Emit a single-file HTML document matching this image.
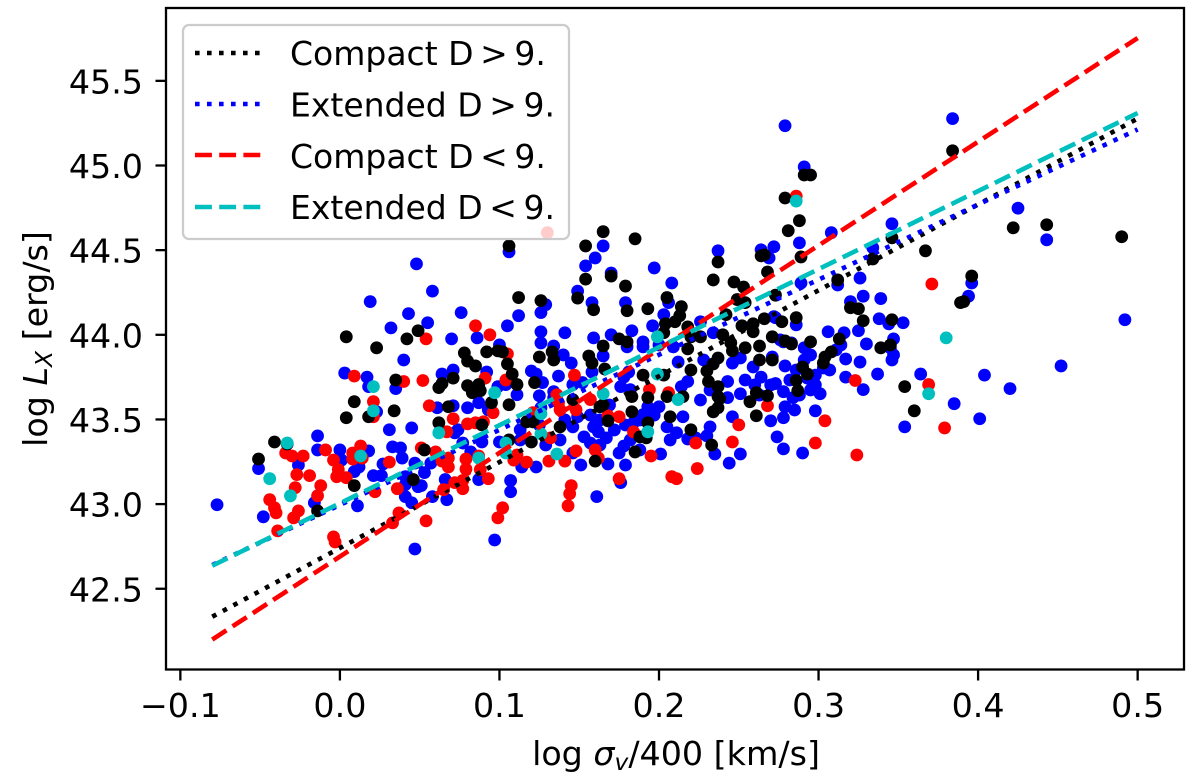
<!DOCTYPE html>
<html lang="en">
<head>
<meta charset="utf-8">
<title>log Lx versus log sigma scatter</title>
<style>
html,body{margin:0;padding:0;background:#fff;}
svg{display:block;}
text{font-family:"DejaVu Sans","Liberation Sans",sans-serif;fill:#000;}
</style>
</head>
<body>
<svg id="chart" xmlns="http://www.w3.org/2000/svg" width="1200" height="776" viewBox="0 0 1200 776">
  <rect x="0" y="0" width="1200" height="776" fill="#fff"/>
  <g id="marks"></g>
  <g id="fits"></g>
  <rect x="166" y="8" width="1018" height="661.5" fill="none" stroke="#000" stroke-width="2.3"/>
  <g id="ticks"></g>
  <text x="676" y="765" font-size="33.3" text-anchor="middle">log <tspan font-style="italic">σ</tspan><tspan font-style="italic" font-size="23.3" dy="5">v</tspan><tspan dy="-5">/400 [km/s]</tspan></text>
  <text transform="translate(47 339) rotate(-90)" font-size="33.3" text-anchor="middle">log <tspan font-style="italic">L</tspan><tspan font-style="italic" font-size="23.3" dy="5">X</tspan><tspan dy="-5"> [erg/s]</tspan></text>
  <g>
    <rect x="183" y="25" width="386" height="214" rx="6" ry="6" fill="#fff" fill-opacity="0.8" stroke="#ccc" stroke-width="2.3"/>
    <line x1="195" x2="261" y1="53" y2="53" stroke="#000" stroke-width="4.6" stroke-dasharray="4.6 7.4"/>
    <text x="290" y="65" font-size="33">Compact D&#8201;&gt;&#8201;9.</text>
    <line x1="195" x2="261" y1="104" y2="104" stroke="#0000ff" stroke-width="4.6" stroke-dasharray="4.6 7.4"/>
    <text x="290" y="116.5" font-size="33">Extended D&#8201;&gt;&#8201;9.</text>
    <line x1="195" x2="261" y1="155" y2="155" stroke="#ff0000" stroke-width="4.6" stroke-dasharray="16.9 7.3"/>
    <text x="290" y="168" font-size="33">Compact D&#8201;&lt;&#8201;9.</text>
    <line x1="195" x2="261" y1="207" y2="207" stroke="#00bfbf" stroke-width="4.6" stroke-dasharray="16.9 7.3"/>
    <text x="290" y="219" font-size="33">Extended D&#8201;&lt;&#8201;9.</text>
  </g>
</svg>
<script>
const xTicks = [-0.1, 0.0, 0.1, 0.2, 0.3, 0.4, 0.5];
const xTickLabels = ["\u22120.1", "0.0", "0.1", "0.2", "0.3", "0.4", "0.5"];
const yTicks = [42.5, 43.0, 43.5, 44.0, 44.5, 45.0, 45.5];
const yTickLabels = ["42.5", "43.0", "43.5", "44.0", "44.5", "45.0", "45.5"];

const fitX = [-0.08, 0.5];
const fitCompactHigh = [42.335, 45.277];
const fitExtendedHigh = [42.64, 45.213];
const fitCompactLow = [42.2, 45.753];
const fitExtendedLow = [42.636, 45.31];

const extendedHighPoints = [
[-.077,42.996],[-.051,43.210],[-.048,42.925],[-.014,43.403],[-.014,43.320],[.000,43.320],[.001,43.260],[-.026,43.231],[-.016,43.008],[.011,42.990],[.018,43.314],[.012,43.219],[.009,43.192],[.027,43.237],[.021,43.168],[.026,43.168],[.031,43.439],[.045,43.450],[.033,43.338],[.038,43.332],[.039,43.272],[.047,43.242],[.041,43.162],[.041,43.115],[.041,43.044],[.045,43.008],[.047,42.735],[.023,43.545],[.018,43.694],[.035,43.682],[.049,43.103],
[.048,44.419],[.019,44.196],[.043,44.125],[.032,44.041],[.040,43.851],[.003,43.774],[.017,43.750],
[.058,44.258],[.055,44.071],[.076,44.131],[.112,44.113],[.105,44.053],[.106,44.490],[.070,43.976],[.086,43.982],[.100,43.940],[.064,43.768],[.071,43.792],[.092,43.780],[.126,44.018],[.126,43.952],[.134,43.934],[.140,43.881],[.145,43.833],[.141,44.012],[.159,43.982],[.149,44.258],[.158,44.190],[.126,44.131],[.129,44.178],[.154,44.407],[.160,44.454],[.165,44.525],[.120,43.786],[.123,43.768],[.127,43.718],[.137,43.756],[.125,43.640],[.134,43.664],[.104,43.706],[.099,43.694],[.111,43.646],[.146,43.706],[.152,43.718],[.158,43.780],
[.061,43.569],[.071,43.581],[.080,43.569],[.087,43.599],[.074,43.439],[.072,43.421],[.089,43.367],[.053,43.186],[.051,43.109],[.058,43.044],[.067,43.026],[.066,43.145],[.057,43.242],[.077,43.361],[.082,43.308],[.087,43.145],[.107,43.139],[.107,43.073],[.114,43.219],[.123,43.219],[.100,43.367],[.097,42.788],[.161,43.044],[.129,43.349],[.138,43.379],[.146,43.302],[.151,43.231],[.146,43.456],[.153,43.397],[.157,43.361],[.149,43.516],[.159,43.456],[.121,43.528],[.126,43.569],[.134,43.629],[.093,43.557],[.113,43.439],
[.197,44.395],[.208,44.306],[.237,44.496],[.264,44.502],[.272,44.520],[.269,44.454],[.170,44.365],[.179,44.190],[.206,44.190],[.196,44.053],[.183,44.024],[.170,44.000],[.203,44.119],[.226,44.077],[.234,44.012],[.190,43.958],[.190,43.929],[.180,43.929],[.200,43.940],[.165,43.875],[.228,43.851],[.246,43.833],[.251,43.863],[.259,43.810],[.264,43.750],[.273,43.712],[.279,43.816],[.278,43.664],[.278,43.958],[.283,43.952],[.271,43.869],[.243,43.724],[.251,43.652],[.218,43.724],[.214,43.694],[.212,43.839],[.209,43.929],[.178,43.750],[.181,43.780],[.176,43.694],[.182,43.676],[.272,44.107],
[.200,43.575],[.215,43.516],[.205,43.456],[.211,43.421],[.218,43.385],[.223,43.391],[.232,43.456],[.230,43.403],[.235,43.296],[.251,43.296],[.244,43.242],[.246,43.516],[.243,43.629],[.270,43.492],[.278,43.510],[.274,43.397],[.278,43.326],[.279,43.575],[.201,43.296],[.179,43.231],[.175,43.302],[.178,43.343],[.168,43.237],[.167,43.391],[.162,43.427],[.184,43.480],[.190,43.528],[.193,43.575],[.176,43.127],
[.279,45.235],[.384,45.277],[.291,44.992],[.288,44.543],[.308,44.603],[.346,44.656],[.334,44.514],[.289,44.306],[.312,44.294],[.326,44.335],[.328,44.228],[.339,44.214],[.320,44.196],
[.338,44.095],[.344,44.065],[.353,44.071],[.325,44.024],[.306,44.018],[.316,44.012],[.330,43.946],[.347,43.976],[.345,43.923],[.347,43.881],[.346,43.851],[.317,43.857],[.326,43.839],[.337,43.768],[.317,43.750],[.328,43.676],[.364,43.768],[.385,43.593],[.354,43.456],[.301,43.652],[.298,43.551],[.284,43.629],[.290,43.302],[.286,43.792],[.293,43.744],[.298,43.762],[.303,43.804],[.291,43.923],[.276,43.970],[.314,43.940],[.311,43.911],[.286,44.059],[.273,44.101],
[.492,44.089],[.452,43.816],[.404,43.762],[.420,43.682],[.401,43.504],[.425,44.748],[.443,44.561],[.394,44.228],[.396,44.306],
[.113,43.379],[.125,43.467],[.141,43.497],[.163,43.497],[.172,43.438],[.188,43.497],[.197,43.526],[.169,43.585],[.179,43.467],[.157,43.526],[.188,43.320],[.163,43.349],[.182,43.379],[.207,43.379],[.226,43.615],[.232,43.674],[.254,43.733],[.260,43.704],[.282,43.733],[.288,43.644],[.270,43.704],[.263,43.644],[.295,43.674],[.285,43.556],[.291,43.851],[.298,43.704],[.307,43.792],[.295,43.881]
];

const compactLowPoints = [
[-.034,43.302],[-.030,43.284],[-.023,43.284],[-.027,43.174],[-.019,43.168],[-.028,43.097],[-.044,43.026],[-.041,42.978],[-.040,42.948],[-.026,42.960],[-.029,42.919],[-.039,42.842],[-.012,43.109],[-.014,43.049],[-.009,43.320],[-.004,43.260],[-.001,43.204],[-.002,43.162],[.004,43.156],[.008,43.302],[.013,43.343],[.008,43.266],[.014,43.272],[.031,43.248],[.036,43.091],[.022,43.073],[-.004,42.806],[-.003,42.776],[.037,42.948],[.033,42.889],[.021,43.605],[.021,43.516],[.040,43.724],[.009,43.756],[.052,43.730],[.051,43.332],
[.085,44.053],[.094,44.000],[.054,43.976],[.105,43.887],[.091,43.744],[.104,43.733],[.147,43.762],[.136,43.646],
[.056,43.581],[.071,43.504],[.067,43.427],[.080,43.474],[.085,43.480],[.090,43.486],[.096,43.540],[.060,43.308],[.068,43.272],[.064,43.254],[.068,43.219],[.079,43.266],[.079,43.207],[.087,43.284],[.088,43.204],[.093,43.150],[.072,43.127],[.077,43.139],[.077,43.091],[.065,43.085],[.054,42.901],[.102,42.978],[.099,42.919],[.109,43.260],[.111,43.290],[.117,43.248],[.131,43.254],[.141,43.254],[.148,43.314],[.160,43.320],[.145,43.109],[.144,43.061],[.143,42.990],[.132,43.391],[.121,43.540],[.137,43.599],[.138,43.557],[.148,43.557],[.157,43.617],
[.194,43.676],[.206,43.658],[.175,43.516],[.168,43.522],[.184,43.427],[.162,43.272],[.195,43.284],[.223,43.361],[.250,43.468],[.246,43.367],[.224,43.210],[.208,43.162],[.211,43.150],[.175,43.150],[.268,43.581],
[.286,44.819],[.371,44.300],[.323,43.730],[.369,43.706],[.379,43.450],[.304,43.492],[.298,43.361],[.324,43.290],
[.130,44.603]
];

const compactHighPoints = [
[-.041,43.367],[-.033,43.355],[-.051,43.266],[.009,43.605],[.004,43.510],[.018,43.516],[.034,43.551],[.035,43.733],[.009,43.109],[-.014,42.960],[.046,43.145],[.004,43.988],[.023,43.923],[.042,43.976],[.049,44.024],
[.106,44.525],[.154,44.525],[.154,44.329],[.149,44.217],[.159,44.148],[.112,44.220],[.126,44.202],[.078,43.893],[.080,43.845],[.085,43.816],[.092,43.899],[.099,43.905],[.102,43.899],[.105,43.828],[.108,43.768],[.111,43.706],[.122,43.718],[.125,43.869],[.133,43.899],[.134,43.851],[.156,43.875],[.158,43.833],[.071,43.744],[.064,43.712],[.062,43.688],[.080,43.700],[.087,43.706],[.083,43.658],[.088,43.670],[.068,43.575],[.062,43.480],[.089,43.468],[.095,43.599],[.106,43.587],[.053,43.320],[.117,43.486],[.121,43.486],[.120,43.367],[.106,43.379],[.138,43.456],[.146,43.617],[.160,43.254],[.163,43.575],
[.165,44.609],[.185,44.567],[.170,44.347],[.179,44.288],[.205,44.220],[.193,44.154],[.180,44.142],[.214,44.166],[.213,44.113],[.210,44.077],[.204,44.065],[.203,44.012],[.218,44.047],[.175,43.976],[.180,43.958],[.165,43.934],[.220,43.988],[.226,43.988],[.218,43.917],[.234,44.324],[.237,44.430],[.264,44.466],[.268,44.371],[.247,44.312],[.253,44.282],[.249,44.208],[.254,44.190],[.273,44.234],[.242,44.119],[.252,44.053],[.259,44.065],[.259,44.018],[.266,44.095],[.277,44.077],[.240,44.000],[.245,43.952],[.246,43.905],[.254,43.923],[.263,43.934],[.271,43.988],[.263,43.851],[.271,43.851],[.237,43.863],[.234,43.828],[.230,43.786],[.220,43.792],[.231,43.724],[.237,43.694],[.261,43.658],[.268,43.640],[.190,43.762],[.203,43.762],[.166,43.798],[.237,43.635],[.193,43.629],[.183,43.635],[.215,43.635],
[.165,43.587],[.183,43.545],[.168,43.492],[.207,43.516],[.193,43.480],[.188,43.397],[.192,43.391],[.185,43.308],[.220,43.439],[.233,43.349],[.234,43.545],[.237,43.569],[.238,43.623],[.257,43.605],[.261,43.522],[.205,43.635],
[.384,45.087],[.291,44.944],[.295,44.944],[.279,44.808],[.288,44.674],[.281,44.615],[.266,44.472],[.289,44.460],[.346,44.573],[.334,44.448],[.367,44.496],[.312,44.324],
[.325,44.154],[.320,44.160],[.328,44.083],[.346,44.089],[.286,44.101],[.279,43.964],[.283,43.946],[.295,43.958],[.313,43.976],[.308,43.899],[.304,43.869],[.303,43.833],[.339,43.923],[.345,43.940],[.290,43.810],[.293,43.768],[.286,43.730],[.287,43.670],[.354,43.694],[.360,43.551],[.389,44.190],
[.490,44.579],[.443,44.650],[.422,44.632],[.396,44.347],[.391,44.196]
];

const extendedLowPoints = [
[-.033,43.361],[-.044,43.150],[-.031,43.049],[.013,43.284],[.021,43.694],[.021,43.551],[.097,43.658],[.062,43.421],[.087,43.272],[.104,43.361],[.104,43.302],[.126,43.534],[.126,43.415],[.136,43.296],[.199,43.988],[.199,43.768],[.165,43.652],[.212,43.617],[.193,43.427],[.286,44.790],[.380,43.982],[.369,43.652]
];

const NS = "http://www.w3.org/2000/svg";
function xAxis(v) { return 339.9 + 1595.5 * v; }
function yAxis(v) { return 334.8 + (44 - v) * 169.3; }

const marksLayer = document.getElementById("marks");
function drawPoints(points, color, kind) {
  for (let i = 0; i < points.length; i++) {
    const c = document.createElementNS(NS, "circle");
    c.setAttribute("cx", xAxis(points[i][0]));
    c.setAttribute("cy", yAxis(points[i][1]));
    c.setAttribute("r", 6.4);
    c.setAttribute("fill", color);
    
    
    marksLayer.appendChild(c);
  }
}
drawPoints(extendedHighPoints, "#0000ff", "point-extended-high");
drawPoints(compactLowPoints, "#ff0000", "point-compact-low");
drawPoints(compactHighPoints, "#000000", "point-compact-high");
drawPoints(extendedLowPoints, "#00bfbf", "point-extended-low");

const fitsLayer = document.getElementById("fits");
function drawFit(values, color, dash, kind) {
  const l = document.createElementNS(NS, "line");
  l.setAttribute("x1", xAxis(fitX[0]));
  l.setAttribute("x2", xAxis(fitX[1]));
  l.setAttribute("y1", yAxis(values[0]));
  l.setAttribute("y2", yAxis(values[1]));
  l.setAttribute("stroke", color);
  l.setAttribute("stroke-width", 4.6);
  l.setAttribute("stroke-dasharray", dash);
  
  
  fitsLayer.appendChild(l);
}
drawFit(fitCompactHigh, "#000000", "4.6 7.4", "fit-line-compact-high");
drawFit(fitExtendedHigh, "#0000ff", "4.6 7.4", "fit-line-extended-high");
drawFit(fitCompactLow, "#ff0000", "16.9 7.3", "fit-line-compact-low");
drawFit(fitExtendedLow, "#00bfbf", "16.9 7.3", "fit-line-extended-low");

const ticksLayer = document.getElementById("ticks");
for (let i = 0; i < xTicks.length; i++) {
  const px = xAxis(xTicks[i]);
  const t = document.createElementNS(NS, "line");
  t.setAttribute("x1", px);
  t.setAttribute("x2", px);
  t.setAttribute("y1", 669.5);
  t.setAttribute("y2", 680.5);
  t.setAttribute("stroke", "#000");
  t.setAttribute("stroke-width", 2.3);
  
  
  ticksLayer.appendChild(t);
  const s = document.createElementNS(NS, "text");
  s.setAttribute("x", px);
  s.setAttribute("y", 717);
  s.setAttribute("font-size", 33.3);
  s.setAttribute("text-anchor", "middle");
  
  
  s.textContent = xTickLabels[i];
  ticksLayer.appendChild(s);
}
for (let i = 0; i < yTicks.length; i++) {
  const py = yAxis(yTicks[i]);
  const t = document.createElementNS(NS, "line");
  t.setAttribute("x1", 155.5);
  t.setAttribute("x2", 166);
  t.setAttribute("y1", py);
  t.setAttribute("y2", py);
  t.setAttribute("stroke", "#000");
  t.setAttribute("stroke-width", 2.3);
  
  
  ticksLayer.appendChild(t);
  const s = document.createElementNS(NS, "text");
  s.setAttribute("x", 143);
  s.setAttribute("y", py + 12.5);
  s.setAttribute("font-size", 33.3);
  s.setAttribute("text-anchor", "end");
  
  
  s.textContent = yTickLabels[i];
  ticksLayer.appendChild(s);
}
</script>
</body>
</html>
